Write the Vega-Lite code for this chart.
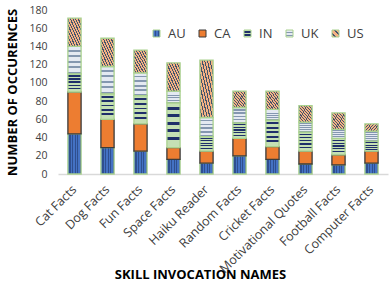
{
  "$schema": "https://vega.github.io/schema/vega-lite/v6.json",
  "width": 330,
  "height": 164,
  "autosize": "none",
  "padding": {"left": 58, "top": 10, "right": 1, "bottom": 109},
  "background": "white",
  "config": {"view": {"stroke": null}, "font": "Open Sans"},
  "data": {"values": [
    {"skill": "Cat Facts", "country": "AU", "count": 44},
    {"skill": "Cat Facts", "country": "CA", "count": 46},
    {"skill": "Cat Facts", "country": "IN", "count": 20},
    {"skill": "Cat Facts", "country": "UK", "count": 30},
    {"skill": "Cat Facts", "country": "US", "count": 31},
    {"skill": "Dog Facts", "country": "AU", "count": 29},
    {"skill": "Dog Facts", "country": "CA", "count": 31},
    {"skill": "Dog Facts", "country": "IN", "count": 28},
    {"skill": "Dog Facts", "country": "UK", "count": 30},
    {"skill": "Dog Facts", "country": "US", "count": 31},
    {"skill": "Fun Facts", "country": "AU", "count": 25},
    {"skill": "Fun Facts", "country": "CA", "count": 30},
    {"skill": "Fun Facts", "country": "IN", "count": 31},
    {"skill": "Fun Facts", "country": "UK", "count": 25},
    {"skill": "Fun Facts", "country": "US", "count": 25},
    {"skill": "Space Facts", "country": "AU", "count": 16},
    {"skill": "Space Facts", "country": "CA", "count": 13},
    {"skill": "Space Facts", "country": "IN", "count": 49},
    {"skill": "Space Facts", "country": "UK", "count": 13},
    {"skill": "Space Facts", "country": "US", "count": 31},
    {"skill": "Haiku Reader", "country": "AU", "count": 12},
    {"skill": "Haiku Reader", "country": "CA", "count": 13},
    {"skill": "Haiku Reader", "country": "IN", "count": 16},
    {"skill": "Haiku Reader", "country": "UK", "count": 21},
    {"skill": "Haiku Reader", "country": "US", "count": 63},
    {"skill": "Random Facts", "country": "AU", "count": 20},
    {"skill": "Random Facts", "country": "CA", "count": 19},
    {"skill": "Random Facts", "country": "IN", "count": 17},
    {"skill": "Random Facts", "country": "UK", "count": 17},
    {"skill": "Random Facts", "country": "US", "count": 18},
    {"skill": "Cricket Facts", "country": "AU", "count": 16},
    {"skill": "Cricket Facts", "country": "CA", "count": 14},
    {"skill": "Cricket Facts", "country": "IN", "count": 29},
    {"skill": "Cricket Facts", "country": "UK", "count": 12},
    {"skill": "Cricket Facts", "country": "US", "count": 20},
    {"skill": "Motivational Quotes", "country": "AU", "count": 11},
    {"skill": "Motivational Quotes", "country": "CA", "count": 14},
    {"skill": "Motivational Quotes", "country": "IN", "count": 21},
    {"skill": "Motivational Quotes", "country": "UK", "count": 11},
    {"skill": "Motivational Quotes", "country": "US", "count": 18},
    {"skill": "Football Facts", "country": "AU", "count": 10},
    {"skill": "Football Facts", "country": "CA", "count": 11},
    {"skill": "Football Facts", "country": "IN", "count": 18},
    {"skill": "Football Facts", "country": "UK", "count": 10},
    {"skill": "Football Facts", "country": "US", "count": 18},
    {"skill": "Computer Facts", "country": "AU", "count": 12},
    {"skill": "Computer Facts", "country": "CA", "count": 13},
    {"skill": "Computer Facts", "country": "IN", "count": 11},
    {"skill": "Computer Facts", "country": "UK", "count": 11},
    {"skill": "Computer Facts", "country": "US", "count": 8}
  ]},
  "mark": {"type": "bar", "strokeWidth": 1.3},
  "encoding": {
    "x": {
      "field": "skill", "type": "nominal",
      "sort": ["Cat Facts", "Dog Facts", "Fun Facts", "Space Facts", "Haiku Reader", "Random Facts", "Cricket Facts", "Motivational Quotes", "Football Facts", "Computer Facts"],
      "scale": {"paddingInner": 0.6, "paddingOuter": 0.3},
      "axis": {
        "title": "SKILL INVOCATION NAMES",
        "titleFont": "Open Sans", "titleFontSize": 13, "titleFontWeight": "bold", "titleColor": "#000000",
        "titleX": 142, "titleY": 104, "titleBaseline": "alphabetic", "titleAnchor": "middle", "titleAlign": "center",
        "labelAngle": -45, "labelAlign": "right", "labelBaseline": "middle", "labelFontSize": 12.5, "labelColor": "#404040", "labelPadding": 13,
        "ticks": false, "domainColor": "#D9D9D9", "domainWidth": 1.5, "grid": false
      }
    },
    "y": {
      "field": "count", "type": "quantitative", "aggregate": "sum", "stack": "zero",
      "scale": {"domain": [0, 180]},
      "axis": {
        "title": "NUMBER OF OCCURENCES",
        "titleFontSize": 13, "titleFontWeight": "bold", "titleColor": "#000000", "titlePadding": 9,
        "values": [0, 20, 40, 60, 80, 100, 120, 140, 160, 180],
        "labelFontSize": 10.5, "labelColor": "#404040", "labelPadding": 11,
        "ticks": false, "domain": false, "grid": false
      }
    },
    "order": {"field": "country", "sort": "ascending"},
    "detail": {"field": "country", "type": "nominal"},
    "fill": {
      "condition": [
        {"test": "datum.country === 'AU'", "value": {"gradient": "linear", "x1": 0, "y1": 0, "x2": 1, "y2": 0, "stops": [
            {"offset": 0, "color": "#4472C4"}, {"offset": 0.12, "color": "#4472C4"},
            {"offset": 0.12, "color": "#2F4F8F"}, {"offset": 0.2, "color": "#2F4F8F"},
            {"offset": 0.2, "color": "#4472C4"}, {"offset": 0.32, "color": "#4472C4"},
            {"offset": 0.32, "color": "#2F4F8F"}, {"offset": 0.4, "color": "#2F4F8F"},
            {"offset": 0.4, "color": "#4472C4"}, {"offset": 0.52, "color": "#4472C4"},
            {"offset": 0.52, "color": "#2F4F8F"}, {"offset": 0.6, "color": "#2F4F8F"},
            {"offset": 0.6, "color": "#4472C4"}, {"offset": 0.72, "color": "#4472C4"},
            {"offset": 0.72, "color": "#2F4F8F"}, {"offset": 0.8, "color": "#2F4F8F"},
            {"offset": 0.8, "color": "#4472C4"}, {"offset": 0.92, "color": "#4472C4"},
            {"offset": 0.92, "color": "#2F4F8F"}, {"offset": 1, "color": "#2F4F8F"}
          ]}},
        {"test": "datum.country === 'IN'", "value": {"gradient": "linear", "x1": 0, "y1": 0, "x2": 0, "y2": 1, "stops": [
            {"offset": 0, "color": "#C5E0B4"}, {"offset": 0.08, "color": "#C5E0B4"},
            {"offset": 0.08, "color": "#1F2F6A"}, {"offset": 0.15, "color": "#1F2F6A"},
            {"offset": 0.15, "color": "#C5E0B4"}, {"offset": 0.25, "color": "#C5E0B4"},
            {"offset": 0.25, "color": "#1F2F6A"}, {"offset": 0.32, "color": "#1F2F6A"},
            {"offset": 0.32, "color": "#C5E0B4"}, {"offset": 0.42, "color": "#C5E0B4"},
            {"offset": 0.42, "color": "#1F2F6A"}, {"offset": 0.49, "color": "#1F2F6A"},
            {"offset": 0.49, "color": "#C5E0B4"}, {"offset": 0.59, "color": "#C5E0B4"},
            {"offset": 0.59, "color": "#1F2F6A"}, {"offset": 0.66, "color": "#1F2F6A"},
            {"offset": 0.66, "color": "#C5E0B4"}, {"offset": 0.76, "color": "#C5E0B4"},
            {"offset": 0.76, "color": "#1F2F6A"}, {"offset": 0.83, "color": "#1F2F6A"},
            {"offset": 0.83, "color": "#C5E0B4"}, {"offset": 1, "color": "#C5E0B4"}
          ]}},
        {"test": "datum.country === 'UK'", "value": {"gradient": "linear", "x1": 0, "y1": 0, "x2": 0, "y2": 1, "stops": [
            {"offset": 0, "color": "#E4E9F2"}, {"offset": 0.12, "color": "#E4E9F2"},
            {"offset": 0.12, "color": "#8497B0"}, {"offset": 0.2, "color": "#8497B0"},
            {"offset": 0.2, "color": "#E4E9F2"}, {"offset": 0.32, "color": "#E4E9F2"},
            {"offset": 0.32, "color": "#8497B0"}, {"offset": 0.4, "color": "#8497B0"},
            {"offset": 0.4, "color": "#E4E9F2"}, {"offset": 0.52, "color": "#E4E9F2"},
            {"offset": 0.52, "color": "#8497B0"}, {"offset": 0.6, "color": "#8497B0"},
            {"offset": 0.6, "color": "#E4E9F2"}, {"offset": 0.72, "color": "#E4E9F2"},
            {"offset": 0.72, "color": "#8497B0"}, {"offset": 0.8, "color": "#8497B0"},
            {"offset": 0.8, "color": "#E4E9F2"}, {"offset": 0.92, "color": "#E4E9F2"},
            {"offset": 0.92, "color": "#8497B0"}, {"offset": 1, "color": "#8497B0"}
          ]}},
        {"test": "datum.country === 'US'", "value": {"gradient": "linear", "x1": 0, "y1": 1, "x2": 1, "y2": 0, "stops": [
            {"offset": 0, "color": "#F4B183"}, {"offset": 0.06, "color": "#F4B183"},
            {"offset": 0.06, "color": "#44546A"}, {"offset": 0.1, "color": "#44546A"},
            {"offset": 0.1, "color": "#F4B183"}, {"offset": 0.16, "color": "#F4B183"},
            {"offset": 0.16, "color": "#44546A"}, {"offset": 0.2, "color": "#44546A"},
            {"offset": 0.2, "color": "#F4B183"}, {"offset": 0.26, "color": "#F4B183"},
            {"offset": 0.26, "color": "#44546A"}, {"offset": 0.3, "color": "#44546A"},
            {"offset": 0.3, "color": "#F4B183"}, {"offset": 0.36, "color": "#F4B183"},
            {"offset": 0.36, "color": "#44546A"}, {"offset": 0.4, "color": "#44546A"},
            {"offset": 0.4, "color": "#F4B183"}, {"offset": 0.46, "color": "#F4B183"},
            {"offset": 0.46, "color": "#44546A"}, {"offset": 0.5, "color": "#44546A"},
            {"offset": 0.5, "color": "#F4B183"}, {"offset": 0.56, "color": "#F4B183"},
            {"offset": 0.56, "color": "#44546A"}, {"offset": 0.6, "color": "#44546A"},
            {"offset": 0.6, "color": "#F4B183"}, {"offset": 0.66, "color": "#F4B183"},
            {"offset": 0.66, "color": "#44546A"}, {"offset": 0.7, "color": "#44546A"},
            {"offset": 0.7, "color": "#F4B183"}, {"offset": 0.76, "color": "#F4B183"},
            {"offset": 0.76, "color": "#44546A"}, {"offset": 0.8, "color": "#44546A"},
            {"offset": 0.8, "color": "#F4B183"}, {"offset": 0.86, "color": "#F4B183"},
            {"offset": 0.86, "color": "#44546A"}, {"offset": 0.9, "color": "#44546A"},
            {"offset": 0.9, "color": "#F4B183"}, {"offset": 1, "color": "#F4B183"}
          ]}}
      ],
      "value": "#ED7D31"
    },
    "stroke": {
      "field": "country", "type": "nominal",
      "scale": {"domain": ["AU", "CA", "IN", "UK", "US"], "range": ["#A9D18E", "#3B3B3B", "#A9D18E", "#A9D18E", "#A9D18E"]},
      "legend": {
        "title": null, "orient": "none", "legendX": 92, "legendY": 17, "padding": 0,
        "direction": "horizontal", "columns": 5, "gridAlign": "none",
        "symbolType": "square", "symbolSize": 49, "symbolStrokeWidth": 1,
        "labelFontSize": 13, "labelColor": "#404040", "labelOffset": 5, "columnPadding": 10,
        "encoding": {"symbols": {"fill": {"value": {"expr": "datum.value === 'AU' ? {gradient: 'linear', x1: 0, y1: 0, x2: 1, y2: 0, stops: [{offset: 0, color: '#4472C4'}, {offset: 0.3, color: '#4472C4'}, {offset: 0.3, color: '#2F4F8F'}, {offset: 0.45, color: '#2F4F8F'}, {offset: 0.45, color: '#4472C4'}, {offset: 0.75, color: '#4472C4'}, {offset: 0.75, color: '#2F4F8F'}, {offset: 0.9, color: '#2F4F8F'}, {offset: 0.9, color: '#4472C4'}, {offset: 1, color: '#4472C4'}]} : datum.value === 'CA' ? '#ED7D31' : datum.value === 'IN' ? {gradient: 'linear', x1: 0, y1: 0, x2: 0, y2: 1, stops: [{offset: 0, color: '#C5E0B4'}, {offset: 0.2, color: '#C5E0B4'}, {offset: 0.2, color: '#1F2F6A'}, {offset: 0.4, color: '#1F2F6A'}, {offset: 0.4, color: '#C5E0B4'}, {offset: 0.6, color: '#C5E0B4'}, {offset: 0.6, color: '#1F2F6A'}, {offset: 0.8, color: '#1F2F6A'}, {offset: 0.8, color: '#C5E0B4'}, {offset: 1, color: '#C5E0B4'}]} : datum.value === 'UK' ? {gradient: 'linear', x1: 0, y1: 0, x2: 0, y2: 1, stops: [{offset: 0, color: '#E4E9F2'}, {offset: 0.25, color: '#E4E9F2'}, {offset: 0.25, color: '#8497B0'}, {offset: 0.4, color: '#8497B0'}, {offset: 0.4, color: '#E4E9F2'}, {offset: 0.65, color: '#E4E9F2'}, {offset: 0.65, color: '#8497B0'}, {offset: 0.8, color: '#8497B0'}, {offset: 0.8, color: '#E4E9F2'}, {offset: 1, color: '#E4E9F2'}]} : {gradient: 'linear', x1: 0, y1: 1, x2: 1, y2: 0, stops: [{offset: 0, color: '#F4B183'}, {offset: 0.2, color: '#F4B183'}, {offset: 0.2, color: '#44546A'}, {offset: 0.35, color: '#44546A'}, {offset: 0.35, color: '#F4B183'}, {offset: 0.6, color: '#F4B183'}, {offset: 0.6, color: '#44546A'}, {offset: 0.75, color: '#44546A'}, {offset: 0.75, color: '#F4B183'}, {offset: 1, color: '#F4B183'}]}"}}}}
      }
    }
  }
}
